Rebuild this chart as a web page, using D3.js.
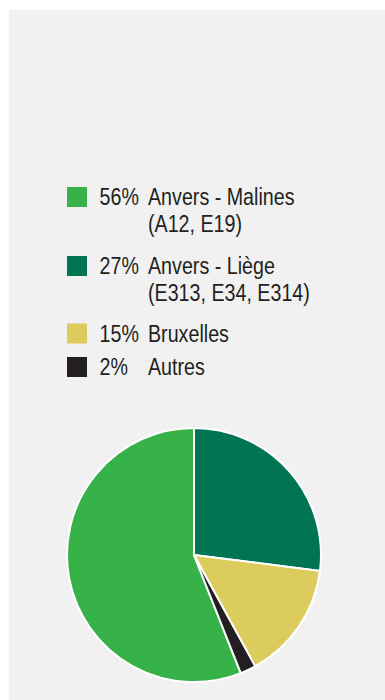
<!DOCTYPE html>
<html>
<head>
<meta charset="utf-8">
<script src="https://cdn.jsdelivr.net/npm/d3@7/dist/d3.min.js"></script>
<style>
  html, body { margin: 0; padding: 0; background: #ffffff; }
  svg { display: block; }
  .lbl { font-family: "Liberation Sans", Arial, sans-serif; fill: #231f20; font-size: 24px; }
</style>
</head>
<body>
<svg id="chart" width="385" height="700"></svg>
<script>
// Traffic share by route
const shares = [56, 27, 15, 2];
const routes = ["Anvers - Malines", "Anvers - Liège", "Bruxelles", "Autres"];
const routeRoads = ["(A12, E19)", "(E313, E34, E314)", "", ""];
const palette = ["#36b249", "#007453", "#dccb5d", "#231f20"];

const svg = d3.select("#chart");
const W = 385, H = 700;

// grey panel
svg.append("rect")
  .attr("x", 9).attr("y", 10)
  .attr("width", W - 9).attr("height", H - 10)
  .attr("fill", "#f1f1f1");

const color = d3.scaleOrdinal().domain(routes).range(palette);

// condensed look: horizontally squeezed text
const squeeze = 0.82;
function label(g, x, y, str) {
  g.append("text")
    .attr("class", "lbl")
    .attr("transform", `translate(${x},${y}) scale(${squeeze},1)`)
    .text(str);
}

// legend layout: baseline of each entry's first line, second line below it
const legendBaselines = [205, 274, 341.5, 375];
const secondLineGap = 27;
const legend = svg.append("g");

routes.forEach((r, i) => {
  const y = legendBaselines[i];
  legend.append("rect")
    .attr("x", 67).attr("y", y - 18)
    .attr("width", 20).attr("height", 20)
    .attr("fill", color(r));
  label(legend, 99.5, y, d3.format("d")(shares[i]) + "%");
  label(legend, 148, y, r);
  if (routeRoads[i]) label(legend, 148, y + secondLineGap, routeRoads[i]);
});

// pie
const cx = 194, cy = 555, radius = 127;
const total = d3.sum(shares);
const start = -2 * Math.PI * shares[0] / total;
const pie = d3.pie().sort(null).startAngle(start).endAngle(start + 2 * Math.PI);
const arc = d3.arc().innerRadius(0).outerRadius(radius);

svg.append("g")
  .attr("transform", `translate(${cx},${cy})`)
  .selectAll("path")
  .data(pie(shares))
  .join("path")
  .attr("d", arc)
  .attr("fill", (d, i) => color(routes[i]))
  .attr("stroke", "#ffffff")
  .attr("stroke-width", 2)
  .attr("stroke-linejoin", "round");
</script>
</body>
</html>
